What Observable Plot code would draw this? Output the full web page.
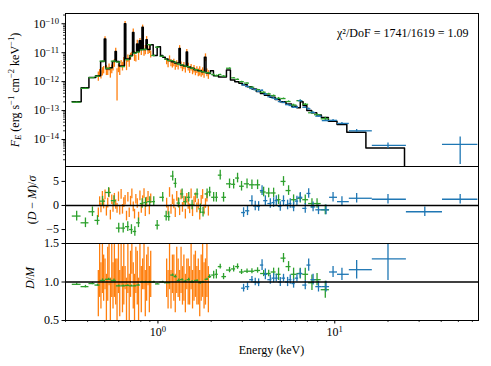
<!DOCTYPE html>
<html><head><meta charset="utf-8">
<script src="https://cdn.jsdelivr.net/npm/d3@7"></script>
<script src="https://cdn.jsdelivr.net/npm/@observablehq/plot@0.6"></script>
<style>
body{margin:0;background:#fff;}
#wrap{position:relative;width:491px;height:366px;}
#wrap svg{position:absolute;left:0;top:0;}
</style></head><body><div id="wrap"></div>
<script>
// ---------------- DATA ----------------
// folded model (black step line): bin start energy (keV) and flux
const modelE = [0.327,0.368,0.407,0.445,0.474,0.497,0.507,0.535,0.552,0.572,0.582,0.603,0.646,0.658,0.694,0.718,0.731,0.757,0.770,0.784,0.798,0.812,0.826,0.856,0.870,0.902,0.940,0.990,1.033,1.065,1.100,1.14,1.19,1.24,1.315,1.338,1.40,1.445,1.47,1.53,1.60,1.68,1.76,1.83,1.87,1.95,1.98,2.06,2.20,2.44,2.57,2.72,2.87,3.0,3.2,3.4,3.6,3.8,4.0,4.3,4.6,4.9,5.3,5.7,6.1,6.38,6.62,6.95,7.4,7.9,8.4,9.2,10.3,11.7,15.0,24.8,70];
const modelF = [2.0e-13,6.2e-13,1.4e-12,1.6e-12,5.0e-12,3.0e-11,2.8e-12,3.0e-12,5.0e-12,1.1e-11,5.0e-12,3.5e-12,1.0e-10,6.0e-12,8.0e-12,5.0e-11,1.0e-11,2.0e-11,1.1e-11,2.6e-11,1.3e-11,7.5e-11,1.3e-11,2.8e-11,1.3e-11,1.9e-11,8.0e-12,1.6e-11,8.0e-12,7.0e-12,6.0e-12,5.4e-12,4.9e-12,4.4e-12,1.4e-11,3.7e-12,3.4e-12,1.05e-11,3.2e-12,2.9e-12,2.6e-12,2.4e-12,2.2e-12,7.0e-12,2.0e-12,1.9e-12,2.4e-12,1.6e-12,1.45e-12,2.5e-12,1.15e-12,1.0e-12,8.8e-13,7.8e-13,6.6e-13,5.6e-13,4.6e-13,3.9e-13,3.4e-13,2.9e-13,2.4e-13,2.0e-13,1.7e-13,1.4e-13,1.25e-13,2.0e-13,1.5e-13,1.0e-13,8.5e-14,7.0e-14,5.8e-14,4.3e-14,3.3e-14,1.8e-14,5.1e-15,1e-17,1e-17];

// green instrument
const greenE = [0.347,0.389,0.426,0.455,0.486,0.526,0.564,0.600,0.636,0.675,0.708,0.740,0.776,0.814,0.850,0.899,0.947,0.990,1.064,1.113,1.151,1.212,1.255,1.311,1.370,1.430,1.493,1.560,1.665,1.738,1.799,1.896,1.961,2.066,2.14,2.25,2.35,2.54,2.68,2.82,2.97,3.19,3.40,3.66,3.96,4.23,4.51,4.81,5.13,5.48,5.85,6.38,6.81,7.43,7.94,8.84];
const greenF = [1.95e-13,5.85e-13,1.37e-12,1.54e-12,5.1e-12,2.9e-12,5.1e-12,4.75e-12,3.3e-12,5.7e-12,7.6e-12,9.5e-12,1.05e-11,1.25e-11,1.3e-11,1.9e-11,8.0e-12,1.55e-11,7.5e-12,6.0e-12,5.35e-12,5.3e-12,4.7e-12,4.0e-12,3.8e-12,3.45e-12,3.3e-12,2.9e-12,2.6e-12,2.3e-12,2.2e-12,2.05e-12,2.0e-12,1.75e-12,1.6e-12,1.75e-12,1.55e-12,2.9e-12,1.35e-12,1.2e-12,1.0e-12,8.9e-13,6.4e-13,5.3e-13,4.3e-13,3.8e-13,3.3e-13,2.65e-13,2.6e-13,2.05e-13,1.55e-13,2.2e-13,1.65e-13,8.4e-14,7.2e-14,5.2e-14];
const greenR = [-2.2,-3.6,-1.3,-3.1,0.9,2.7,1.0,-4.7,-4.7,-4.4,-5.0,-5.4,-3.6,0.4,0.6,0.8,0.8,-4.1,1.7,-2.2,-2.3,6.1,4.6,0.5,2.4,0.8,1.7,0.1,2.4,-0.7,-1.4,2.4,2.8,1.7,1.7,6.3,1.7,4.5,4.4,5.7,4.0,4.5,4.3,4.3,2.8,2.6,2.6,1.2,5.0,3.1,1.2,1.5,1.2,0.4,0.4,-0.9];
const greenRatio = [0.97,0.94,0.98,0.96,1.02,1.035,1.02,0.95,0.95,0.955,0.95,0.95,0.96,1.0,1.0,1.0,1.0,0.975,1.0,0.99,0.99,1.09,1.07,1.02,1.03,1.01,1.03,1.0,1.02,0.99,1.0,1.035,1.07,1.09,1.1,1.2,1.07,1.155,1.17,1.2,1.13,1.14,1.14,1.15,1.11,1.11,1.13,1.1,1.31,1.2,1.1,1.11,1.1,0.99,1.03,0.9];
const greenErr = [0.015,0.016,0.015,0.013,0.02,0.013,0.02,0.011,0.011,0.01,0.01,0.009,0.011,0.01,0.01,0.01,0.01,0.006,0.01,0.005,0.005,0.015,0.015,0.02,0.013,0.012,0.018,0.02,0.01,0.015,0.01,0.015,0.025,0.05,0.06,0.03,0.04,0.035,0.04,0.035,0.033,0.03,0.033,0.035,0.04,0.042,0.05,0.08,0.06,0.065,0.08,0.07,0.08,0.1,0.08,0.11];

// blue instrument
const blueE = [3.05,3.21,3.40,3.55,3.71,3.88,4.05,4.32,4.51,4.67,4.92,5.13,5.41,5.60,5.85,6.11,6.38,6.81,7.12,7.54,8.09,8.93,9.78,10.98,13.3,20.0,32.3,51.2];
const blueF = [7.7e-13,6.8e-13,5.8e-13,5.3e-13,4.6e-13,5.0e-13,3.7e-13,3.0e-13,2.7e-13,2.45e-13,2.05e-13,1.9e-13,1.6e-13,1.5e-13,1.3e-13,1.3e-13,2.2e-13,1.3e-13,1.15e-13,8.6e-14,6.4e-14,4.5e-14,4.6e-14,3.6e-14,2.0e-14,6.3e-15,null,6.8e-15];
const blueR = [-1.47,-1.1,1.0,-0.1,-0.2,3.1,1.0,0.4,0.6,1.0,-0.2,1.0,0.1,0.4,-0.3,0.9,1.7,-0.6,2.5,-0.3,-0.9,-0.9,1.7,0.8,1.5,1.3,-1.3,1.3];
const blueRatio = [0.92,0.94,1.03,1.0,0.99,1.22,1.1,1.03,1.05,1.05,1.0,1.05,1.0,1.03,0.98,1.05,1.11,0.96,1.22,1.03,0.94,0.94,1.13,1.1,1.16,1.3,null,null];
const blueErr = [0.05,0.05,0.04,0.05,0.05,0.07,0.07,0.06,0.06,0.05,0.06,0.05,0.06,0.06,0.06,0.05,0.06,0.06,0.08,0.07,0.07,0.07,0.07,0.08,0.12,0.28,0.5,0.8];

// orange instrument (high resolution, two chunks)
const orangeE = [0.460,0.468,0.476,0.485,0.493,0.502,0.511,0.520,0.529,0.538,0.548,0.557,0.567,0.577,0.587,0.598,0.608,0.619,0.630,0.641,0.652,0.664,0.676,0.688,0.700,0.712,0.725,0.737,0.750,0.764,0.777,0.791,0.805,0.819,0.834,0.848,0.863,0.879,0.894,0.910,
 1.120,1.141,1.163,1.185,1.207,1.230,1.253,1.277,1.301,1.326,1.351,1.376,1.402,1.429,1.456,1.483,1.511,1.540,1.569,1.599,1.629,1.660,1.691,1.723,1.756,1.789,1.823,1.857,1.892,1.928];
const orangeF = [1.6e-12,2.0e-12,1.8e-12,2.3e-12,2.6e-12,3.0e-11,2.6e-12,2.4e-12,3.2e-12,2.2e-12,2.8e-12,3.4e-12,4.5e-12,1.1e-11,1.5e-12,3.0e-12,2.5e-12,4.2e-12,3.5e-12,5.0e-12,1.05e-10,4.0e-12,6.5e-12,5.0e-12,7.5e-12,9.0e-12,5.0e-11,8.0e-12,6.5e-12,2.0e-11,9.0e-12,2.6e-11,1.2e-11,7.6e-11,1.0e-11,1.3e-11,2.8e-11,1.1e-11,1.4e-11,9.0e-12,
 5.0e-12,4.2e-12,6.2e-12,4.5e-12,3.8e-12,4.6e-12,3.5e-12,4.2e-12,3.3e-12,1.45e-11,3.8e-12,3.0e-12,3.6e-12,2.8e-12,1.1e-11,3.3e-12,2.6e-12,3.1e-12,2.4e-12,2.8e-12,2.2e-12,2.6e-12,2.1e-12,2.4e-12,2.0e-12,2.3e-12,1.9e-12,7.0e-12,2.1e-12,1.8e-12];
const orangeR = [-1.5,0.8,-0.5,1.9,0.3,2.2,-1.2,0.5,2.6,-2.0,1.2,-0.4,1.5,0.2,-0.6,1.8,-1.0,2.3,-0.8,0.6,1.1,-2.2,1.7,-1.5,0.9,2.4,-0.3,-1.8,1.3,0.4,-2.4,2.0,-0.6,1.0,2.5,-1.3,0.7,1.9,-0.9,1.4,
 0.5,-1.0,2.7,-0.8,1.2,0.3,-1.5,1.9,0.6,-1.1,2.2,-0.4,0.9,-1.8,1.5,0.2,-0.7,2.4,-1.3,0.8,1.6,-0.5,0.3,-2.0,1.1,2.3,-0.9,0.4,1.7,-1.2];
const orangeRatio = [0.85,1.15,0.95,1.25,1.05,1.1,0.8,1.1,1.3,0.75,1.2,0.95,1.15,1.0,0.7,1.25,0.85,1.3,0.9,1.1,1.05,0.75,1.2,0.8,1.1,1.3,0.95,0.8,1.15,1.05,0.75,1.25,0.9,1.1,1.2,0.85,1.05,1.2,0.9,1.1,
 1.05,0.9,1.2,0.9,1.1,1.05,0.85,1.15,1.05,0.95,1.15,0.95,1.05,0.85,1.1,1.0,0.95,1.2,0.9,1.05,1.1,0.95,1.0,0.85,1.05,1.15,0.95,1.0,1.15,0.9];
const orangeErr = [0.3,0.35,0.3,0.4,0.3,0.2,0.3,0.35,0.35,0.3,0.4,0.3,0.35,0.3,0.6,0.4,0.3,0.35,0.3,0.4,0.15,0.3,0.35,0.3,0.3,0.2,0.3,0.3,0.3,0.35,0.3,0.25,0.3,0.2,0.3,0.3,0.3,0.25,0.3,0.3,
 0.25,0.25,0.3,0.25,0.25,0.3,0.25,0.3,0.25,0.2,0.3,0.25,0.3,0.25,0.2,0.3,0.25,0.3,0.25,0.3,0.3,0.25,0.3,0.3,0.3,0.35,0.3,0.3,0.35,0.3];

const majorXTicks = [1, 10];
const majorYTicks = [1e-14, 1e-13, 1e-12, 1e-11, 1e-10];
const residTicks = [-5, 0, 5];
const ratioTicks = [0.5, 1.0, 1.5];
const chiText = "χ²/DoF = 1741/1619 = 1.09";

// ---------------- LAYOUT ----------------
const W = 491, H = 366, ML = 65, MR = 13;
const FONT = "'Liberation Serif', 'DejaVu Serif', serif";
const ORANGE = "#ff7f0e", GREEN = "#2ca02c", BLUE = "#1f77b4";
const xDomain = [0.3, 65];
const panels = {top: [13, 166], mid: [166, 243], bot: [243, 320]};

function binEdges(E) {
  const n = E.length, lo = [], hi = [];
  for (let i = 0; i < n; i++) {
    const l = i > 0 ? Math.sqrt(E[i-1]*E[i]) : E[i]*E[i]/Math.sqrt(E[i]*E[i+1]);
    const h = i < n-1 ? Math.sqrt(E[i]*E[i+1]) : E[i]*E[i]/Math.sqrt(E[i-1]*E[i]);
    lo.push(l); hi.push(h);
  }
  return [lo, hi];
}
function build(E, F, R, ratio, err) {
  const [lo, hi] = binEdges(E);
  return E.map((e, i) => {
    const rel = ratio[i] != null ? err[i] / ratio[i] : err[i];
    return {E: e, lo: lo[i], hi: hi[i], F: F[i],
      Flo: F[i] != null ? F[i]*(1-rel) : null, Fhi: F[i] != null ? F[i]*(1+rel) : null,
      R: R[i], ratio: ratio[i], rlo: ratio[i] != null ? ratio[i]-err[i] : null, rhi: ratio[i] != null ? ratio[i]+err[i] : null};
  });
}
const model = modelE.map((e, i) => ({E: e, F: modelF[i]}));
const green = build(greenE, greenF, greenR, greenRatio, greenErr);
const blue = build(blueE, blueF, blueR, blueRatio, blueErr);
const orange = orangeE.map((e, i) => {
  const rel = orangeErr[i] / orangeRatio[i];
  return {E: e, F: orangeF[i], Flo: orangeF[i]*(1-rel), Fhi: orangeF[i]*(1+rel), R: orangeR[i],
    ratio: orangeRatio[i], rlo: orangeRatio[i]-orangeErr[i], rhi: orangeRatio[i]+orangeErr[i]};
});

// minor tick positions
const minorX = [];
for (const dec of [0.1, 1, 10]) for (let m = 2; m <= 9; m++) { const v = m*dec; if (v >= xDomain[0] && v <= xDomain[1]) minorX.push(v); }
const minorY = [];
for (let k = -15; k <= -10; k++) for (let m = 2; m <= 9; m++) { const v = m*Math.pow(10, k); if (v >= 1.17e-15 && v <= 2.26e-10) minorY.push(v); }

const baseStyle = {background: "none", fontFamily: FONT, fontSize: "12px", color: "black", overflow: "visible"};
function errMarks(data, color, yk, ylo, yhi, sw) {
  return [
    Plot.ruleY(data, {y: yk, x1: "lo", x2: "hi", stroke: color, strokeWidth: sw, clip: true}),
    Plot.ruleX(data, {x: "E", y1: ylo, y2: yhi, stroke: color, strokeWidth: sw, clip: true})
  ];
}

const wrap = document.getElementById("wrap");
const pw = W - ML - MR;

// TOP PANEL
const topPlot = Plot.plot({
  width: W, height: H, marginLeft: ML, marginRight: MR,
  marginTop: panels.top[0], marginBottom: H - panels.top[1],
  style: baseStyle,
  x: {type: "log", domain: xDomain, axis: null},
  y: {type: "log", domain: [1.17e-15, 2.26e-10], ticks: majorYTicks, tickSize: 3.5, tickPadding: 3,
      tickFormat: d => "10^" + Math.round(Math.log10(d)), label: null},
  marks: [
    Plot.ruleX(orange, {x: "E", y1: "Flo", y2: "Fhi", stroke: ORANGE, strokeWidth: 1.3, clip: true}),
    Plot.line(model, {x: "E", y: "F", curve: "step-after", stroke: "black", strokeWidth: 1.5, clip: true}),
    ...errMarks(green, GREEN, "F", "Flo", "Fhi", 1.3),
    ...errMarks(blue.filter(d => d.F != null), BLUE, "F", "Flo", "Fhi", 1.3),
    Plot.ruleY(minorY, {y: d => d, insetLeft: -2, insetRight: pw, stroke: "black", strokeWidth: 0.8}),
    Plot.text([chiText], {text: d => d, frameAnchor: "top-right", textAnchor: "end", dx: -10, dy: 15, fontSize: 12, fill: "black"}),
    Plot.frame({stroke: "black", strokeWidth: 1})
  ]
});

// MIDDLE PANEL
const midPlot = Plot.plot({
  width: W, height: H, marginLeft: ML, marginRight: MR,
  marginTop: panels.mid[0], marginBottom: H - panels.mid[1],
  style: baseStyle,
  x: {type: "log", domain: xDomain, axis: null},
  y: {domain: [-7.9, 8.1], ticks: residTicks, tickSize: 3.5, tickPadding: 3,
      tickFormat: d => d < 0 ? "−" + Math.abs(d) : String(d), label: null},
  marks: [
    Plot.ruleX(orange, {x: "E", y1: d => d.R - 1, y2: d => d.R + 1, stroke: ORANGE, strokeWidth: 1.3, clip: true}),
    ...errMarks(green, GREEN, "R", d => d.R - 1, d => d.R + 1, 1.3),
    ...errMarks(blue, BLUE, "R", d => d.R - 1, d => d.R + 1, 1.3),
    Plot.ruleY([0], {stroke: "black", strokeWidth: 1.5}),
    Plot.frame({stroke: "black", strokeWidth: 1})
  ]
});

// BOTTOM PANEL
const botPlot = Plot.plot({
  width: W, height: H, marginLeft: ML, marginRight: MR,
  marginTop: panels.bot[0], marginBottom: H - panels.bot[1],
  style: baseStyle,
  x: {type: "log", domain: xDomain, ticks: majorXTicks, tickSize: 3.5, tickPadding: 3,
      tickFormat: d => "10^" + Math.round(Math.log10(d)), label: null},
  y: {domain: [0.5, 1.5], ticks: ratioTicks, tickSize: 3.5, tickPadding: 3,
      tickFormat: d => d.toFixed(1), label: null},
  marks: [
    Plot.ruleX(orange, {x: "E", y1: "rlo", y2: "rhi", stroke: ORANGE, strokeWidth: 1.3, clip: true}),
    ...errMarks(green, GREEN, "ratio", "rlo", "rhi", 1.3),
    ...errMarks(blue.filter(d => d.ratio != null), BLUE, "ratio", "rlo", "rhi", 1.3),
    Plot.ruleY([1], {stroke: "black", strokeWidth: 1.5}),
    Plot.ruleX(minorX, {x: d => d, insetTop: panels.bot[1] - panels.bot[0], insetBottom: -2, stroke: "black", strokeWidth: 0.8}),
    Plot.frame({stroke: "black", strokeWidth: 1})
  ]
});

for (const p of [topPlot, midPlot, botPlot]) wrap.appendChild(p);

// superscript formatting for "10^k" tick labels
d3.selectAll("#wrap text").each(function() {
  const t = this.textContent;
  const m = /^10\^(-?\d+)$/.exec(t);
  if (m) {
    const sel = d3.select(this);
    sel.text("10");
    sel.append("tspan").attr("dy", "-0.45em").attr("font-size", "0.72em").text(m[1].replace("-", "−"));
  }
});

// axis titles
const svgB = d3.select(botPlot);
function sup(textSel, s) { textSel.append("tspan").attr("dy", -5).attr("font-size", "0.72em").text(s); }
const yl = svgB.append("text").attr("transform", "translate(18.5,90) rotate(-90)").attr("text-anchor", "middle")
  .attr("font-family", FONT).attr("font-size", 12).attr("fill", "black");
yl.append("tspan").attr("font-style", "italic").text("F");
yl.append("tspan").attr("font-style", "italic").attr("font-size", "0.72em").attr("dy", 2.5).text("E");
yl.append("tspan").attr("dy", -2.5).text(" (erg s");
sup(yl, "−1");
yl.append("tspan").attr("dy", 5).text(" cm");
sup(yl, "−2");
yl.append("tspan").attr("dy", 5).text(" keV");
sup(yl, "−1");
yl.append("tspan").attr("dy", 5).text(")");

const ml = svgB.append("text").attr("transform", "translate(35.5,200) rotate(-90)").attr("text-anchor", "middle")
  .attr("font-family", FONT).attr("font-size", 12).attr("fill", "black");
ml.append("tspan").text("(");
ml.append("tspan").attr("font-style", "italic").text("D");
ml.append("tspan").text(" − ");
ml.append("tspan").attr("font-style", "italic").text("M");
ml.append("tspan").text(")/");
ml.append("tspan").attr("font-style", "italic").text("σ");

const bl = svgB.append("text").attr("transform", "translate(34,278) rotate(-90)").attr("text-anchor", "middle")
  .attr("font-family", FONT).attr("font-size", 12).attr("fill", "black");
bl.append("tspan").attr("font-style", "italic").text("D");
bl.append("tspan").text("/");
bl.append("tspan").attr("font-style", "italic").text("M");

svgB.append("text").attr("x", (ML + W - MR) / 2).attr("y", 354).attr("text-anchor", "middle")
  .attr("font-family", FONT).attr("font-size", 12).attr("fill", "black").text("Energy (keV)");
</script></body></html>
